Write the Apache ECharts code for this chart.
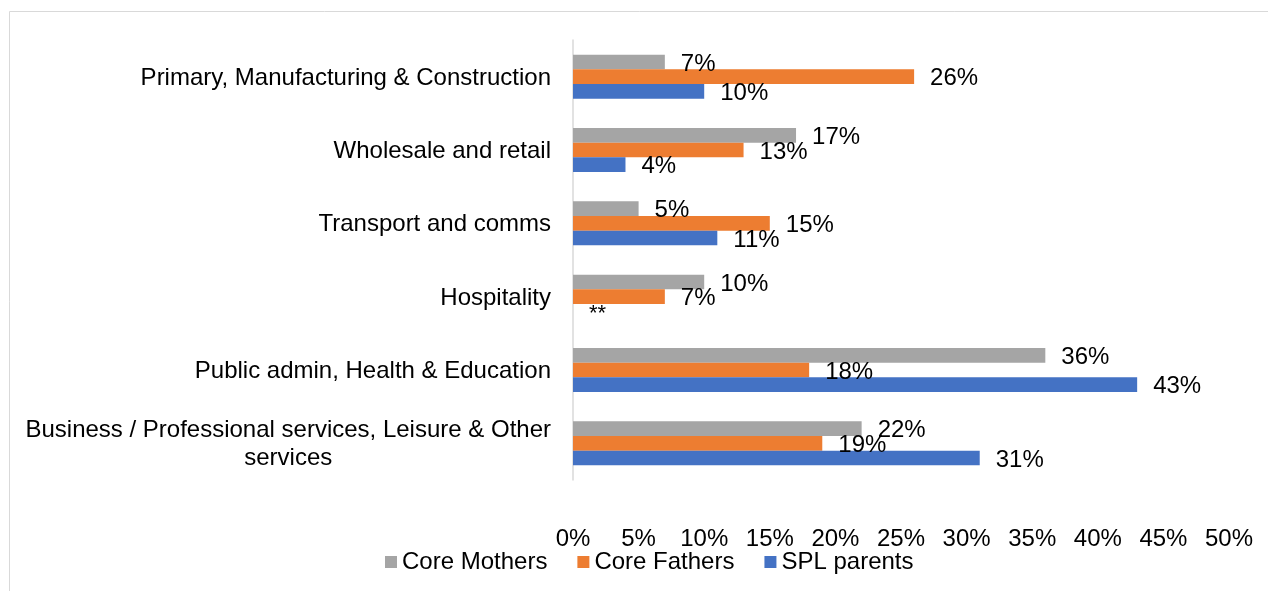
<!DOCTYPE html>
<html>
<head>
<meta charset="utf-8">
<script src="https://cdn.jsdelivr.net/npm/echarts@6/dist/echarts.min.js"></script>
<style>
  html, body { margin: 0; padding: 0; background: #fff; }
  #main { width: 1268px; height: 591px; }
</style>
</head>
<body>
<div id="main"></div>
<script>
// 行业分类（自上而下）
var categories = [
    'Primary, Manufacturing & Construction',
    'Wholesale and retail',
    'Transport and comms',
    'Hospitality',
    'Public admin, Health & Education',
    'Business / Professional services, Leisure & Other\nservices'
];
var xTicks = [0, 5, 10, 15, 20, 25, 30, 35, 40, 45, 50];
var coreMothers = [7, 17, 5, 10, 36, 22];
var coreFathers = [26, 13, 15, 7, 18, 19];
// null = 样本太少，显示 **
var splParents = [10, 4, 11, null, 43, 31];

var FONT = 'Liberation Sans, Arial, sans-serif';
var FS = 24;
var myChart = echarts.init(document.getElementById('main'));

function makeSeries(name, values, color) {
    return {
        name: name,
        type: 'bar',
        barGap: '0%',
        barCategoryGap: '40%',
        itemStyle: { color: color },
        label: {
            show: true,
            position: 'right',
            distance: 16,
            offset: [0, 2],
            color: '#000',
            fontFamily: FONT,
            fontSize: FS,
            formatter: function (p) {
                return p.value == null || p.value === 0 ? '**' : p.value + '%';
            }
        },
        data: values.map(function (v) {
            if (v == null) {
                return { value: 0, label: { fontSize: 22, offset: [0, 3] } };
            }
            return v;
        })
    };
}

myChart.setOption({
    animation: false,
    textStyle: { fontFamily: FONT },
    graphic: [{
        type: 'rect',
        shape: { x: 9.5, y: 11.5, width: 1300, height: 700 },
        style: { fill: 'none', stroke: '#D9D9D9', lineWidth: 1 },
        silent: true
    }],
    legend: {
        top: 545,
        left: 380,
        itemWidth: 12,
        itemHeight: 12,
        itemGap: 30,
        icon: 'rect',
        textStyle: { fontSize: FS, color: '#000', fontFamily: FONT },
        data: ['Core Mothers', 'Core Fathers', 'SPL parents']
    },
    grid: {
        left: 573,
        width: 656,
        top: 40,
        height: 440
    },
    xAxis: {
        type: 'value',
        min: 0,
        max: 50,
        interval: 5,
        axisLine: { show: false },
        axisTick: { show: false },
        splitLine: { show: false },
        axisLabel: {
            margin: 47,
            fontSize: FS,
            color: '#000',
            fontFamily: FONT,
            formatter: function (v) { return xTicks.indexOf(v) >= 0 ? v + '%' : ''; }
        }
    },
    yAxis: {
        type: 'category',
        inverse: true,
        data: categories,
        axisLine: { show: true, lineStyle: { color: '#D9D9D9', width: 1.5 } },
        axisTick: { show: false },
        axisLabel: {
            margin: 22,
            color: '#000',
            fontSize: FS,
            fontFamily: FONT,
            lineHeight: 28,
            formatter: function (v) {
                return v.split('\n').map(function (s) { return '{c|' + s + '}'; }).join('\n');
            },
            rich: {
                c: { align: 'center', fontSize: FS, lineHeight: 28, color: '#000', fontFamily: FONT, padding: [3, 0, 0, 0] }
            }
        }
    },
    series: [
        makeSeries('Core Mothers', coreMothers, '#A5A5A5'),
        makeSeries('Core Fathers', coreFathers, '#ED7D31'),
        makeSeries('SPL parents', splParents, '#4472C4')
    ]
});
</script>
</body>
</html>
